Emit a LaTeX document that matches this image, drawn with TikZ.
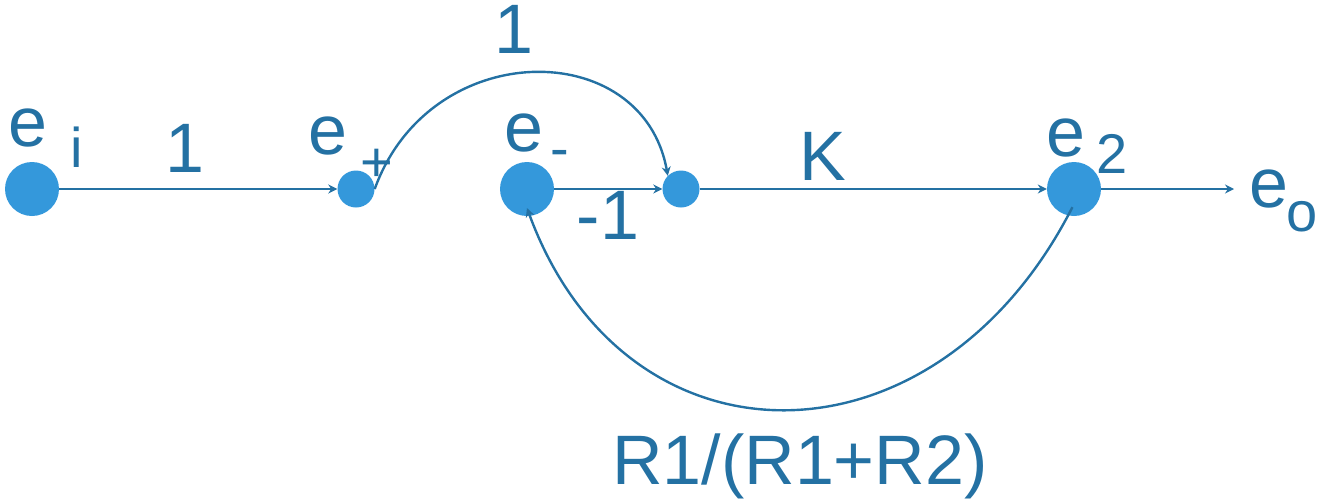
\documentclass[tikz,border=0pt]{standalone}
\usepackage{fontspec}
\setmainfont{Liberation Sans}
\usetikzlibrary{arrows.meta,calc}
\definecolor{nodefill}{HTML}{3498DB}
\definecolor{edgeblue}{HTML}{2471A3}
\begin{document}
\begin{tikzpicture}[x=1pt,y=-1pt,
  bignode/.style={circle,fill=nodefill,minimum size=54pt,inner sep=0pt},
  smallnode/.style={circle,fill=nodefill,minimum size=37pt,inner sep=0pt},
  conn/.style={draw=edgeblue,line width=2.4pt,-{Stealth[length=9pt,width=9pt]}},
  bigtxt/.style={text=edgeblue,inner sep=0pt,anchor=base,font=\fontsize{70}{80}\selectfont},
  subtxt/.style={text=edgeblue,inner sep=0pt,anchor=base,font=\fontsize{56}{64}\selectfont}]
\useasboundingbox (0,0) rectangle (1320,501);
% nodes
\node[bignode] (ei) at (32,189) {};
\node[smallnode] (ep) at (356,189) {};
\node[bignode] (em) at (527,189) {};
\node[smallnode] (n4) at (681,189) {};
\node[bignode] (e2) at (1074,189) {};
\coordinate (eo) at (1234,189);
% connectors
\draw[conn] (ei) -- (ep);
\draw[conn] (em) -- (n4);
\draw[conn] (n4) -- (e2);
\draw[conn] (e2) -- (eo);
\draw[conn] (ep.east) .. controls (430,36) and (643,36) .. (n4.north west);
\draw[conn] ($(e2.center)!0.67!(e2.265)$) .. controls (935,477) and (625,477) .. ($(em.center)!0.7!(em.270)$);
% labels
\node[bigtxt] (tei) at (28,146) {e};
\node[subtxt] (tei2) at (77,167) {i};
\node[bigtxt] (t1a) at (185,172) {1};
\node[bigtxt] (tep) at (328,154) {e};
\node[subtxt] (tep2) at (377,181) {+};
\node[bigtxt] (t1b) at (514,53) {1};
\node[bigtxt] (tem) at (524,151) {e};
\node[subtxt] (tem2) at (560,167) {-};
\node[bigtxt] (tm1) at (608,239) {-1};
\node[bigtxt] (tK) at (823,180) {K};
\node[bigtxt] (te2) at (1066,156) {e};
\node[subtxt] (te22) at (1112,173) {2};
\node[bigtxt] (teo) at (1269,207) {e};
\node[subtxt] (teo2) at (1302,231) {o};
\node[bigtxt] (tR) at (800,484) {R1/(R1+R2)};
\end{tikzpicture}
\end{document}
